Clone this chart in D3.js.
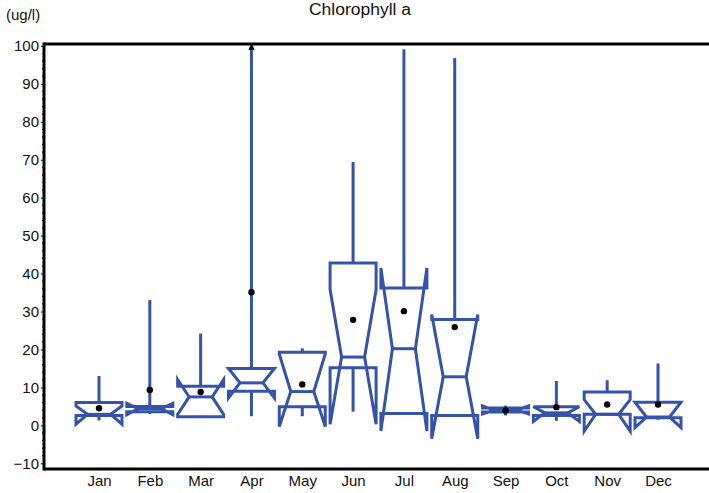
<!DOCTYPE html>
<html>
<head>
<meta charset="utf-8">
<script src="https://cdn.jsdelivr.net/npm/d3@7"></script>
<style>
  html, body { margin: 0; padding: 0; background: #fff; }
  svg { display: block; font-family: "Liberation Sans", Arial, sans-serif; }
</style>
</head>
<body>
<svg id="chart" width="709" height="493"></svg>
<script>
const months    = ["Jan","Feb","Mar","Apr","May","Jun","Jul","Aug","Sep","Oct","Nov","Dec"];
const whiskerHi = [13.0, 33.0, 24.2, 100.0, 20.3, 69.4, 99.1, 96.8, 5.2, 11.7, 11.9, 16.3];
const q3        = [6.0, 5.0, 10.3, 15.0, 19.3, 42.8, 36.2, 27.9, 4.6, 4.9, 8.8, 6.1];
const notchHi   = [5.1, 5.8, 12.1, 15.0, 18.8, 35.8, 41.5, 29.2, 5.1, 4.9, 6.8, 6.1];
const median    = [2.9, 4.4, 7.5, 11.2, 8.9, 18.0, 20.2, 12.8, 4.0, 3.3, 2.9, 2.2];
const notchLo   = [0.3, 2.8, 2.9, 7.2, -0.3, 0.3, -1.5, -3.5, 3.0, 1.0, -1.5, -0.6];
const q1        = [2.6, 3.6, 2.3, 9.0, 4.9, 15.2, 3.1, 2.6, 3.5, 2.6, 2.9, 2.0];
const whiskerLo = [1.3, 3.0, 2.3, 2.4, 2.4, 3.6, 2.8, 2.6, 2.6, 1.2, 2.9, 1.5];
const means     = [4.5, 9.3, 8.8, 35.1, 10.8, 27.8, 30.1, 25.9, 3.9, 4.8, 5.5, 5.5];
const yTicks    = [-10, 0, 10, 20, 30, 40, 50, 60, 70, 80, 90, 100];
const title     = "Chlorophyll a";
const unitLabel = "(ug/l)";

(function () {
const svg = d3.select("#chart");
const pLeft = 44, pTop = 44, pBottom = 469, pRight = 709;
const blue = "#3453a9";
const font = "Liberation Sans, Arial, sans-serif";

const x = d3.scalePoint().domain(months).range([99, 658]);
const y = d3.scaleLinear().domain([-11.5, 100.5]).range([pBottom, pTop]);
const halfW = 23, notchW = 11.5;

// title & unit
svg.append("text").attr("x", 360).attr("y", 15).attr("text-anchor", "middle")
  .attr("font-size", 16).attr("fill", "#111")
  .attr("textLength", 102).attr("lengthAdjust", "spacingAndGlyphs").text(title);
svg.append("text").attr("x", 6).attr("y", 20)
  .attr("font-size", 15).attr("fill", "#111").text(unitLabel);

// y axis ticks / labels
const yAxis = d3.axisLeft(y).tickValues(yTicks).tickSize(3).tickPadding(2);
const gy = svg.append("g").attr("transform", `translate(${pLeft},0)`).call(yAxis);
gy.select(".domain").remove();
gy.selectAll("text").attr("font-size", 15).attr("fill", "#111").attr("font-family", font);
gy.selectAll("line").attr("stroke", "#111");
// minor ticks
const minor = d3.range(-10, 101, 2).filter(v => v % 10 !== 0);
svg.append("g").selectAll("line").data(minor).join("line")
  .attr("x1", pLeft - 2).attr("x2", pLeft).attr("y1", d => y(d)).attr("y2", d => y(d))
  .attr("stroke", "#111").attr("stroke-width", 1);

// x labels
const xAxis = d3.axisBottom(x).tickSize(0).tickPadding(6);
const gx = svg.append("g").attr("transform", `translate(0,${pBottom})`).call(xAxis);
gx.select(".domain").remove();
gx.selectAll("text").attr("font-size", 15).attr("fill", "#111").attr("font-family", font);

// frame
const frame = svg.append("g").attr("stroke", "#000").attr("stroke-width", 3).attr("fill", "none");
frame.append("line").attr("x1", pLeft).attr("x2", pRight).attr("y1", pTop).attr("y2", pTop);
frame.append("line").attr("x1", pLeft).attr("x2", pRight).attr("y1", pBottom).attr("y2", pBottom);
frame.append("line").attr("x1", pLeft).attr("x2", pLeft).attr("y1", pTop - 1.5).attr("y2", pBottom + 1.5);

const data = months.map((m, i) => ({
  m, wHi: whiskerHi[i], q3: q3[i], nHi: notchHi[i], med: median[i],
  nLo: notchLo[i], q1: q1[i], wLo: whiskerLo[i], mean: means[i]
}));

const g = svg.append("g");
data.forEach(d => {
  const cx = x(d.m);
  const L = cx - halfW, R = cx + halfW, Li = cx - notchW, Ri = cx + notchW;
  const pts = [
    [L, y(d.q1)], [L, y(d.nLo)], [Li, y(d.med)], [L, y(d.nHi)], [L, y(d.q3)],
    [R, y(d.q3)], [R, y(d.nHi)], [Ri, y(d.med)], [R, y(d.nLo)], [R, y(d.q1)]
  ];
  const box = g.append("g");
  box.append("line").attr("x1", cx).attr("x2", cx).attr("y1", y(d.q3)).attr("y2", y(d.wHi))
    .attr("stroke", blue).attr("stroke-width", 3);
  box.append("line").attr("x1", cx).attr("x2", cx).attr("y1", y(d.q1)).attr("y2", y(d.wLo))
    .attr("stroke", blue).attr("stroke-width", 3);
  box.append("path").attr("d", d3.line()(pts) + "Z")
    .attr("fill", "none").attr("stroke", blue).attr("stroke-width", 3)
    .attr("stroke-linejoin", "miter").attr("stroke-miterlimit", 4);
  box.append("line").attr("x1", Li).attr("x2", Ri).attr("y1", y(d.med)).attr("y2", y(d.med))
    .attr("stroke", blue).attr("stroke-width", 3);
  box.append("circle").attr("cx", cx).attr("cy", y(d.mean)).attr("r", 3.2).attr("fill", "#000");
  if (d.wHi >= 100) {
    const ty = y(100);
    box.append("path")
      .attr("d", `M${cx - 2.5},${ty + 3.5} L${cx},${ty - 1} L${cx + 2.5},${ty + 3.5} Z`)
      .attr("fill", "#000").attr("stroke", "#000").attr("stroke-width", 1);
  }
});
})();
</script>
</body>
</html>
